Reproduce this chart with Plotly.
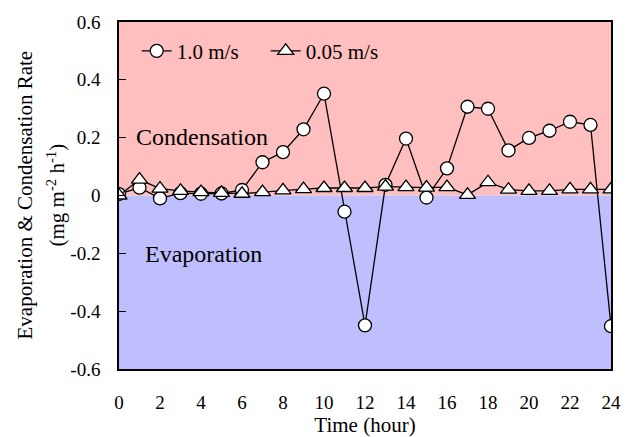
import plotly.graph_objects as go

hours = list(range(25))
rate_1_0 = [0.005, 0.027, -0.01, 0.008, 0.006, 0.007, 0.019, 0.115, 0.15, 0.229, 0.352,
            -0.056, -0.449, 0.037, 0.197, -0.007, 0.094, 0.307, 0.30, 0.156, 0.199, 0.224,
            0.255, 0.244, -0.452]
rate_0_05 = [0.0, 0.055, 0.024, 0.016, 0.012, 0.009, 0.006, 0.012, 0.018, 0.022, 0.026,
             0.026, 0.026, 0.031, 0.029, 0.027, 0.029, 0.002, 0.046, 0.02, 0.016, 0.016,
             0.021, 0.021, 0.021]
x_ticks = list(range(0, 25, 2))
y_ticks = [-0.6, -0.4, -0.2, 0, 0.2, 0.4, 0.6]
y_tick_text = ["-0.6", "-0.4", "-0.2", "0", "0.2", "0.4", "0.6"]

FONT = "Liberation Serif"

fig = go.Figure()
fig.add_trace(go.Scatter(
    x=hours, y=rate_1_0, mode="lines+markers", name="1.0 m/s",
    line=dict(color="black", width=1.3),
    marker=dict(symbol="circle", size=13, color="white", line=dict(color="black", width=1.3)),
))
fig.add_trace(go.Scatter(
    x=hours, y=rate_0_05, mode="lines+markers", name="0.05 m/s",
    line=dict(color="black", width=1.3),
    marker=dict(symbol="triangle-up", size=14, color="white", line=dict(color="black", width=1.3)),
))

fig.add_shape(type="rect", xref="x", yref="y", x0=0, x1=24, y0=0, y1=0.6,
              fillcolor="#FFBFBF", line=dict(width=0), layer="below")
fig.add_shape(type="rect", xref="x", yref="y", x0=0, x1=24, y0=-0.6, y1=0,
              fillcolor="#BFBFFF", line=dict(width=0), layer="below")

fig.add_annotation(x=0.73, y=0.202, xref="x", yref="y", text="Condensation", showarrow=False,
                   xanchor="left", yanchor="middle", font=dict(family=FONT, size=24, color="black"))
fig.add_annotation(x=1.17, y=-0.202, xref="x", yref="y", text="Evaporation", showarrow=False,
                   xanchor="left", yanchor="middle", font=dict(family=FONT, size=24, color="black"))

# two-line y axis title
fig.add_annotation(x=0, y=0.5, xref="paper", yref="paper", xshift=-95,
                   text="Evaporation &amp; Condensation Rate", showarrow=False, textangle=-90,
                   xanchor="center", yanchor="middle", font=dict(family=FONT, size=21, color="black"))
fig.add_annotation(x=0, y=0.5, xref="paper", yref="paper", xshift=-63,
                   text="(mg m<sup>-2</sup> h<sup>-1</sup>)", showarrow=False, textangle=-90,
                   xanchor="center", yanchor="middle", font=dict(family=FONT, size=21, color="black"))

fig.update_layout(
    width=630, height=437,
    margin=dict(l=119, r=19, t=22, b=68),
    paper_bgcolor="white", plot_bgcolor="white",
    font=dict(family=FONT, size=19, color="black"),
    showlegend=True,
    legend=dict(orientation="h", x=0.036, y=0.975, xanchor="left", yanchor="top",
                bgcolor="rgba(0,0,0,0)", font=dict(family=FONT, size=21),
                itemwidth=30, tracegroupgap=0, entrywidth=84, entrywidthmode="pixels"),
    xaxis=dict(range=[0, 24], tickvals=x_ticks, ticks="", showgrid=False, zeroline=False,
               showline=True, linecolor="black", linewidth=1.5, mirror=True, automargin=False,
               tickfont=dict(family=FONT, size=19), ticklabelstandoff=15,
               title=dict(text="Time (hour)", font=dict(family=FONT, size=21), standoff=2)),
    yaxis=dict(range=[-0.6, 0.6], tickvals=y_ticks, ticktext=y_tick_text, ticks="inside",
               ticklen=7, tickcolor="black", showgrid=False, zeroline=False,
               showline=True, linecolor="black", linewidth=1.5, mirror=True, automargin=False,
               tickfont=dict(family=FONT, size=19), ticklabelstandoff=13),
)

fig.write_html("out.html")
